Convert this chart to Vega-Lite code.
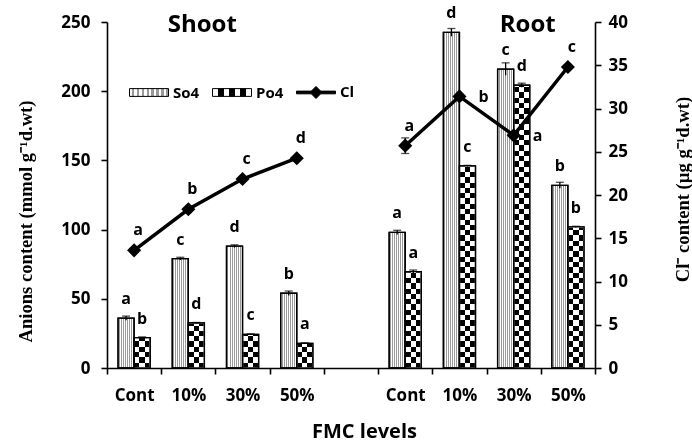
{
  "$schema": "https://vega.github.io/schema/vega-lite/v6.json",
  "width": 488,
  "height": 346,
  "autosize": {"type": "none"},
  "padding": {"left": 107, "top": 22, "right": 97, "bottom": 78},
  "background": "white",
  "params": [
    {"name": "so4grad", "value": {"gradient": "linear", "x1": 0, "y1": 0, "x2": 1, "y2": 0, "stops": [
      {"offset": 0, "color": "#ffffff"}, {"offset": 0.0625, "color": "#ffffff"},
      {"offset": 0.0625, "color": "#9a9a9a"}, {"offset": 0.125, "color": "#9a9a9a"},
      {"offset": 0.125, "color": "#ffffff"}, {"offset": 0.1875, "color": "#ffffff"},
      {"offset": 0.1875, "color": "#9a9a9a"}, {"offset": 0.25, "color": "#9a9a9a"},
      {"offset": 0.25, "color": "#ffffff"}, {"offset": 0.3125, "color": "#ffffff"},
      {"offset": 0.3125, "color": "#9a9a9a"}, {"offset": 0.375, "color": "#9a9a9a"},
      {"offset": 0.375, "color": "#ffffff"}, {"offset": 0.4375, "color": "#ffffff"},
      {"offset": 0.4375, "color": "#9a9a9a"}, {"offset": 0.5, "color": "#9a9a9a"},
      {"offset": 0.5, "color": "#ffffff"}, {"offset": 0.5625, "color": "#ffffff"},
      {"offset": 0.5625, "color": "#9a9a9a"}, {"offset": 0.625, "color": "#9a9a9a"},
      {"offset": 0.625, "color": "#ffffff"}, {"offset": 0.6875, "color": "#ffffff"},
      {"offset": 0.6875, "color": "#9a9a9a"}, {"offset": 0.75, "color": "#9a9a9a"},
      {"offset": 0.75, "color": "#ffffff"}, {"offset": 0.8125, "color": "#ffffff"},
      {"offset": 0.8125, "color": "#9a9a9a"}, {"offset": 0.875, "color": "#9a9a9a"},
      {"offset": 0.875, "color": "#ffffff"}, {"offset": 0.9375, "color": "#ffffff"},
      {"offset": 0.9375, "color": "#9a9a9a"}, {"offset": 1, "color": "#9a9a9a"}]}},
    {"name": "po4leg", "value": {"gradient": "linear", "x1": 0, "y1": 0, "x2": 1, "y2": 0, "stops": [
      {"offset": 0, "color": "#ffffff"}, {"offset": 0.143, "color": "#ffffff"},
      {"offset": 0.143, "color": "#000000"}, {"offset": 0.286, "color": "#000000"},
      {"offset": 0.286, "color": "#ffffff"}, {"offset": 0.429, "color": "#ffffff"},
      {"offset": 0.429, "color": "#000000"}, {"offset": 0.571, "color": "#000000"},
      {"offset": 0.571, "color": "#ffffff"}, {"offset": 0.714, "color": "#ffffff"},
      {"offset": 0.714, "color": "#000000"}, {"offset": 0.857, "color": "#000000"},
      {"offset": 0.857, "color": "#ffffff"}, {"offset": 1, "color": "#ffffff"}]}},
    {"name": "hstripes", "value": [
      {"offset": 0, "color": "#fff"},
      {"offset": 0.017857, "color": "#fff"}, {"offset": 0.017857, "color": "#000"},
      {"offset": 0.035714, "color": "#000"}, {"offset": 0.035714, "color": "#fff"},
      {"offset": 0.053571, "color": "#fff"}, {"offset": 0.053571, "color": "#000"},
      {"offset": 0.071429, "color": "#000"}, {"offset": 0.071429, "color": "#fff"},
      {"offset": 0.089286, "color": "#fff"}, {"offset": 0.089286, "color": "#000"},
      {"offset": 0.107143, "color": "#000"}, {"offset": 0.107143, "color": "#fff"},
      {"offset": 0.125, "color": "#fff"}, {"offset": 0.125, "color": "#000"},
      {"offset": 0.142857, "color": "#000"}, {"offset": 0.142857, "color": "#fff"},
      {"offset": 0.160714, "color": "#fff"}, {"offset": 0.160714, "color": "#000"},
      {"offset": 0.178571, "color": "#000"}, {"offset": 0.178571, "color": "#fff"},
      {"offset": 0.196429, "color": "#fff"}, {"offset": 0.196429, "color": "#000"},
      {"offset": 0.214286, "color": "#000"}, {"offset": 0.214286, "color": "#fff"},
      {"offset": 0.232143, "color": "#fff"}, {"offset": 0.232143, "color": "#000"},
      {"offset": 0.25, "color": "#000"}, {"offset": 0.25, "color": "#fff"},
      {"offset": 0.267857, "color": "#fff"}, {"offset": 0.267857, "color": "#000"},
      {"offset": 0.285714, "color": "#000"}, {"offset": 0.285714, "color": "#fff"},
      {"offset": 0.303571, "color": "#fff"}, {"offset": 0.303571, "color": "#000"},
      {"offset": 0.321429, "color": "#000"}, {"offset": 0.321429, "color": "#fff"},
      {"offset": 0.339286, "color": "#fff"}, {"offset": 0.339286, "color": "#000"},
      {"offset": 0.357143, "color": "#000"}, {"offset": 0.357143, "color": "#fff"},
      {"offset": 0.375, "color": "#fff"}, {"offset": 0.375, "color": "#000"},
      {"offset": 0.392857, "color": "#000"}, {"offset": 0.392857, "color": "#fff"},
      {"offset": 0.410714, "color": "#fff"}, {"offset": 0.410714, "color": "#000"},
      {"offset": 0.428571, "color": "#000"}, {"offset": 0.428571, "color": "#fff"},
      {"offset": 0.446429, "color": "#fff"}, {"offset": 0.446429, "color": "#000"},
      {"offset": 0.464286, "color": "#000"}, {"offset": 0.464286, "color": "#fff"},
      {"offset": 0.482143, "color": "#fff"}, {"offset": 0.482143, "color": "#000"},
      {"offset": 0.5, "color": "#000"}, {"offset": 0.5, "color": "#fff"},
      {"offset": 0.517857, "color": "#fff"}, {"offset": 0.517857, "color": "#000"},
      {"offset": 0.535714, "color": "#000"}, {"offset": 0.535714, "color": "#fff"},
      {"offset": 0.553571, "color": "#fff"}, {"offset": 0.553571, "color": "#000"},
      {"offset": 0.571429, "color": "#000"}, {"offset": 0.571429, "color": "#fff"},
      {"offset": 0.589286, "color": "#fff"}, {"offset": 0.589286, "color": "#000"},
      {"offset": 0.607143, "color": "#000"}, {"offset": 0.607143, "color": "#fff"},
      {"offset": 0.625, "color": "#fff"}, {"offset": 0.625, "color": "#000"},
      {"offset": 0.642857, "color": "#000"}, {"offset": 0.642857, "color": "#fff"},
      {"offset": 0.660714, "color": "#fff"}, {"offset": 0.660714, "color": "#000"},
      {"offset": 0.678571, "color": "#000"}, {"offset": 0.678571, "color": "#fff"},
      {"offset": 0.696429, "color": "#fff"}, {"offset": 0.696429, "color": "#000"},
      {"offset": 0.714286, "color": "#000"}, {"offset": 0.714286, "color": "#fff"},
      {"offset": 0.732143, "color": "#fff"}, {"offset": 0.732143, "color": "#000"},
      {"offset": 0.75, "color": "#000"}, {"offset": 0.75, "color": "#fff"},
      {"offset": 0.767857, "color": "#fff"}, {"offset": 0.767857, "color": "#000"},
      {"offset": 0.785714, "color": "#000"}, {"offset": 0.785714, "color": "#fff"},
      {"offset": 0.803571, "color": "#fff"}, {"offset": 0.803571, "color": "#000"},
      {"offset": 0.821429, "color": "#000"}, {"offset": 0.821429, "color": "#fff"},
      {"offset": 0.839286, "color": "#fff"}, {"offset": 0.839286, "color": "#000"},
      {"offset": 0.857143, "color": "#000"}, {"offset": 0.857143, "color": "#fff"},
      {"offset": 0.875, "color": "#fff"}, {"offset": 0.875, "color": "#000"},
      {"offset": 0.892857, "color": "#000"}, {"offset": 0.892857, "color": "#fff"},
      {"offset": 0.910714, "color": "#fff"}, {"offset": 0.910714, "color": "#000"},
      {"offset": 0.928571, "color": "#000"}, {"offset": 0.928571, "color": "#fff"},
      {"offset": 0.946429, "color": "#fff"}, {"offset": 0.946429, "color": "#000"},
      {"offset": 0.964286, "color": "#000"}, {"offset": 0.964286, "color": "#fff"},
      {"offset": 0.982143, "color": "#fff"}, {"offset": 0.982143, "color": "#000"},
      {"offset": 1, "color": "#000"}
    ]}
  ],
  "config": {
    "view": {"stroke": null},
    "axis": {
      "domainColor": "#000", "domainWidth": 1.6, "tickColor": "#000", "tickWidth": 1.6, "tickSize": 6,
      "labelColor": "#000", "labelFont": "Open Sans", "labelFontWeight": "bold", "labelFontSize": 17,
      "grid": false, "titleColor": "#000"
    },
    "legend": {
      "orient": "none", "legendX": 22, "legendY": 50, "direction": "horizontal",
      "padding": 0, "symbolSize": 1521, "labelFont": "Open Sans", "labelFontWeight": "bold",
      "labelFontSize": 15, "labelColor": "#000", "labelOffset": 4, "columnPadding": 10,
      "symbolOpacity": 1, "symbolStrokeWidth": 1
    },
    "text": {"font": "Open Sans", "fontWeight": "bold", "color": "#000"}
  },
  "datasets": {
    "bars": [
      {"cat": "S|Cont", "series": "So4", "value": 36, "err": 1.5, "letter": "a"},
      {"cat": "S|Cont", "series": "Po4", "value": 22, "err": 0.4, "letter": "b"},
      {"cat": "S|10%", "series": "So4", "value": 79, "err": 1, "letter": "c"},
      {"cat": "S|10%", "series": "Po4", "value": 32.5, "err": 0.4, "letter": "d"},
      {"cat": "S|30%", "series": "So4", "value": 88, "err": 1, "letter": "d"},
      {"cat": "S|30%", "series": "Po4", "value": 24.3, "err": 0.4, "letter": "c"},
      {"cat": "S|50%", "series": "So4", "value": 54, "err": 1.6, "letter": "b"},
      {"cat": "S|50%", "series": "Po4", "value": 17.8, "err": 0.4, "letter": "a"},
      {"cat": "R|Cont", "series": "So4", "value": 98, "err": 1.5, "letter": "a"},
      {"cat": "R|Cont", "series": "Po4", "value": 69.6, "err": 1.2, "letter": "a"},
      {"cat": "R|10%", "series": "So4", "value": 242.5, "err": 2.8, "letter": "d"},
      {"cat": "R|10%", "series": "Po4", "value": 146, "err": 0.4, "letter": "c"},
      {"cat": "R|30%", "series": "So4", "value": 216, "err": 4.5, "letter": "c"},
      {"cat": "R|30%", "series": "Po4", "value": 204.3, "err": 1.5, "letter": "d"},
      {"cat": "R|50%", "series": "So4", "value": 132, "err": 2.2, "letter": "b"},
      {"cat": "R|50%", "series": "Po4", "value": 102, "err": 0.4, "letter": "b"}
    ],
    "cl": [
      {"part": "Shoot", "cat": "S|Cont", "value": 13.6, "err": 0.2, "letter": "a"},
      {"part": "Shoot", "cat": "S|10%", "value": 18.35, "err": 0.2, "letter": "b"},
      {"part": "Shoot", "cat": "S|30%", "value": 21.85, "err": 0.2, "letter": "c"},
      {"part": "Shoot", "cat": "S|50%", "value": 24.25, "err": 0.2, "letter": "d"},
      {"part": "Root", "cat": "R|Cont", "value": 25.7, "err": 0.9, "letter": "a"},
      {"part": "Root", "cat": "R|10%", "value": 31.4, "err": 0.2, "letter": "b"},
      {"part": "Root", "cat": "R|30%", "value": 26.9, "err": 0.2, "letter": "a"},
      {"part": "Root", "cat": "R|50%", "value": 34.8, "err": 0.2, "letter": "c"}
    ],
    "titles": [
      {"label": "Shoot", "cat": "S|10%"},
      {"label": "Root", "cat": "R|30%"}
    ]
  },
  "layer": [
    {
      "encoding": {
        "x": {
          "field": "cat", "type": "nominal",
          "scale": {"domain": ["S|Cont", "S|10%", "S|30%", "S|50%", "gap", "R|Cont", "R|10%", "R|30%", "R|50%"], "paddingInner": 0, "paddingOuter": 0},
          "axis": {
            "ticks": true, "tickBand": "extent", "labelAngle": 0, "labelPadding": 13,
            "labelExpr": "datum.value == 'gap' ? '' : split(datum.value, '|')[1]",
            "title": "FMC levels", "titleFont": "Open Sans", "titleFontWeight": "bold", "titleFontSize": 20,
            "titleX": 257, "titleY": 63, "titleAlign": "center", "titleBaseline": "middle"
          }
        },
        "xOffset": {"field": "series", "type": "nominal", "scale": {"domain": ["So4", "Po4"], "paddingInner": 0, "paddingOuter": 0.6875}}
      },
      "layer": [
        {
          "data": {"name": "bars"},
          "mark": {"type": "bar", "stroke": "#000", "strokeWidth": 1.3},
          "encoding": {
            "y": {
              "field": "value", "type": "quantitative", "title": "Anions content (mmol g⁻¹d.wt)",
              "scale": {"domain": [0, 250], "nice": false},
              "axis": {
                "values": [0, 50, 100, 150, 200, 250], "labelPadding": 11,
                "titleFont": "Liberation Serif", "titleFontSize": 18.6, "titleFontWeight": "bold",
                "titleAngle": 270, "titleX": -82, "titleY": 199, "titleAlign": "center", "titleBaseline": "middle"
              }
            },
            "fill": {
              "condition": {"test": "datum.series === 'So4'", "value": {"expr": "so4grad"}},
              "value": {"gradient": "linear", "x1": 0, "y1": 0, "x2": 1, "y2": 0, "stops": [
                {"offset": 0, "color": "#ffffff"}, {"offset": 0.333, "color": "#ffffff"},
                {"offset": 0.333, "color": "#000000"}, {"offset": 0.667, "color": "#000000"},
                {"offset": 0.667, "color": "#ffffff"}, {"offset": 1, "color": "#ffffff"}]}
            }
          }
        },
        {
          "data": {"name": "bars"},
          "transform": [{"filter": "datum.series === 'Po4'"}],
          "mark": {"type": "bar", "strokeWidth": 0, "blend": "difference"},
          "encoding": {
            "y": {"field": "value", "type": "quantitative", "title": "Anions content (mmol g⁻¹d.wt)"},
            "fill": {"value": {"expr": "{gradient: 'linear', x1: 0, y1: 1, x2: 0, y2: 1 - 296.8 / (datum.value * 1.384), stops: hstripes}"}}
          }
        },
        {
          "data": {"name": "bars"},
          "mark": {"type": "bar", "fillOpacity": 0, "stroke": "#000", "strokeWidth": 1.3},
          "encoding": {
            "y": {"field": "value", "type": "quantitative", "title": "Anions content (mmol g⁻¹d.wt)"}
          }
        },
        {
          "data": {"name": "bars"},
          "mark": {"type": "point", "filled": true, "opacity": 0},
          "encoding": {
            "y": {"field": "value", "type": "quantitative", "title": "Anions content (mmol g⁻¹d.wt)"},
            "fill": {
              "field": "series", "type": "nominal", "title": null,
              "scale": {"domain": ["So4", "Po4", "Cl"], "range": [{"expr": "so4grad"}, {"expr": "po4leg"}, "#000000"]}
            },
            "shape": {
              "field": "series", "type": "nominal", "title": null,
              "scale": {"domain": ["So4", "Po4", "Cl"], "range": ["M-1,-0.2H1V0.2H-1Z", "M-1,-0.2H1V0.2H-1Z", "M-1,-0.07H-0.24L0,-0.31L0.24,-0.07H1V0.07H0.24L0,0.31L-0.24,0.07H-1Z"]}
            },
            "stroke": {
              "field": "series", "type": "nominal", "title": null,
              "scale": {"domain": ["So4", "Po4", "Cl"], "range": ["#000000", "#000000", "#000000"]}
            }
          }
        },
        {
          "data": {"name": "bars"},
          "transform": [{"calculate": "datum.value - datum.err", "as": "lo"}, {"calculate": "datum.value + datum.err", "as": "hi"}],
          "mark": {"type": "rule", "strokeWidth": 1.3, "color": "#000"},
          "encoding": {
            "y": {"field": "lo", "type": "quantitative", "title": "Anions content (mmol g⁻¹d.wt)"},
            "y2": {"field": "hi"}
          }
        },
        {
          "data": {"name": "bars"},
          "transform": [{"calculate": "datum.value + datum.err", "as": "hi"}],
          "mark": {"type": "tick", "size": 8, "thickness": 1.3, "color": "#000"},
          "encoding": {
            "y": {"field": "hi", "type": "quantitative", "title": "Anions content (mmol g⁻¹d.wt)"}
          }
        },
        {
          "data": {"name": "bars"},
          "mark": {"type": "text", "fontSize": 16, "dy": -19, "baseline": "middle"},
          "encoding": {
            "y": {"field": "value", "type": "quantitative", "title": "Anions content (mmol g⁻¹d.wt)"},
            "text": {"field": "letter"}
          }
        },
        {
          "data": {"name": "titles"},
          "mark": {"type": "text", "fontSize": 24, "dx": 14, "baseline": "middle"},
          "encoding": {
            "xOffset": null,
            "y": {"datum": 248, "type": "quantitative", "title": "Anions content (mmol g⁻¹d.wt)"},
            "text": {"field": "label"}
          }
        }
      ]
    },
    {
      "data": {"name": "cl"},
      "encoding": {
        "x": {"field": "cat", "type": "nominal", "axis": null}
      },
      "layer": [
        {
          "mark": {"type": "line", "color": "#000", "strokeWidth": 3.5},
          "encoding": {
            "y": {
              "field": "value", "type": "quantitative", "title": "Cl⁻ content (µg g⁻¹d.wt)",
              "scale": {"domain": [0, 40], "nice": false},
              "axis": {
                "orient": "right", "values": [0, 5, 10, 15, 20, 25, 30, 35, 40], "labelPadding": 7,
                "titleFont": "Liberation Serif", "titleFontSize": 18.6, "titleFontWeight": "bold",
                "titleAngle": 270, "titleX": 87, "titleY": 167, "titleAlign": "center", "titleBaseline": "middle"
              }
            },
            "detail": {"field": "part"}
          }
        },
        {
          "transform": [{"calculate": "datum.value - datum.err", "as": "lo"}, {"calculate": "datum.value + datum.err", "as": "hi"}],
          "mark": {"type": "rule", "strokeWidth": 1.3, "color": "#000"},
          "encoding": {
            "y": {"field": "lo", "type": "quantitative", "title": "Cl⁻ content (µg g⁻¹d.wt)"},
            "y2": {"field": "hi"}
          }
        },
        {
          "transform": [{"calculate": "datum.value + datum.err", "as": "hi"}],
          "mark": {"type": "tick", "size": 8, "thickness": 1.3, "color": "#000"},
          "encoding": {
            "y": {"field": "hi", "type": "quantitative", "title": "Cl⁻ content (µg g⁻¹d.wt)"}
          }
        },
        {
          "transform": [{"calculate": "datum.value - datum.err", "as": "lo"}],
          "mark": {"type": "tick", "size": 8, "thickness": 1.3, "color": "#000"},
          "encoding": {
            "y": {"field": "lo", "type": "quantitative", "title": "Cl⁻ content (µg g⁻¹d.wt)"}
          }
        },
        {
          "mark": {"type": "point", "shape": "diamond", "filled": true, "size": 200, "color": "#000", "opacity": 1},
          "encoding": {
            "y": {"field": "value", "type": "quantitative", "title": "Cl⁻ content (µg g⁻¹d.wt)"}
          }
        },
        {
          "transform": [{"filter": "datum.cat !== 'R|10%' && datum.cat !== 'R|30%'"}],
          "mark": {"type": "text", "fontSize": 16, "dx": 4, "dy": -20, "baseline": "middle"},
          "encoding": {
            "y": {"field": "value", "type": "quantitative", "title": "Cl⁻ content (µg g⁻¹d.wt)"},
            "text": {"field": "letter"}
          }
        },
        {
          "transform": [{"filter": "datum.cat === 'R|10%' || datum.cat === 'R|30%'"}],
          "mark": {"type": "text", "fontSize": 16, "dx": 24, "dy": 1, "baseline": "middle"},
          "encoding": {
            "y": {"field": "value", "type": "quantitative", "title": "Cl⁻ content (µg g⁻¹d.wt)"},
            "text": {"field": "letter"}
          }
        }
      ]
    }
  ],
  "resolve": {"scale": {"y": "independent"}, "axis": {"x": "independent"}}
}
